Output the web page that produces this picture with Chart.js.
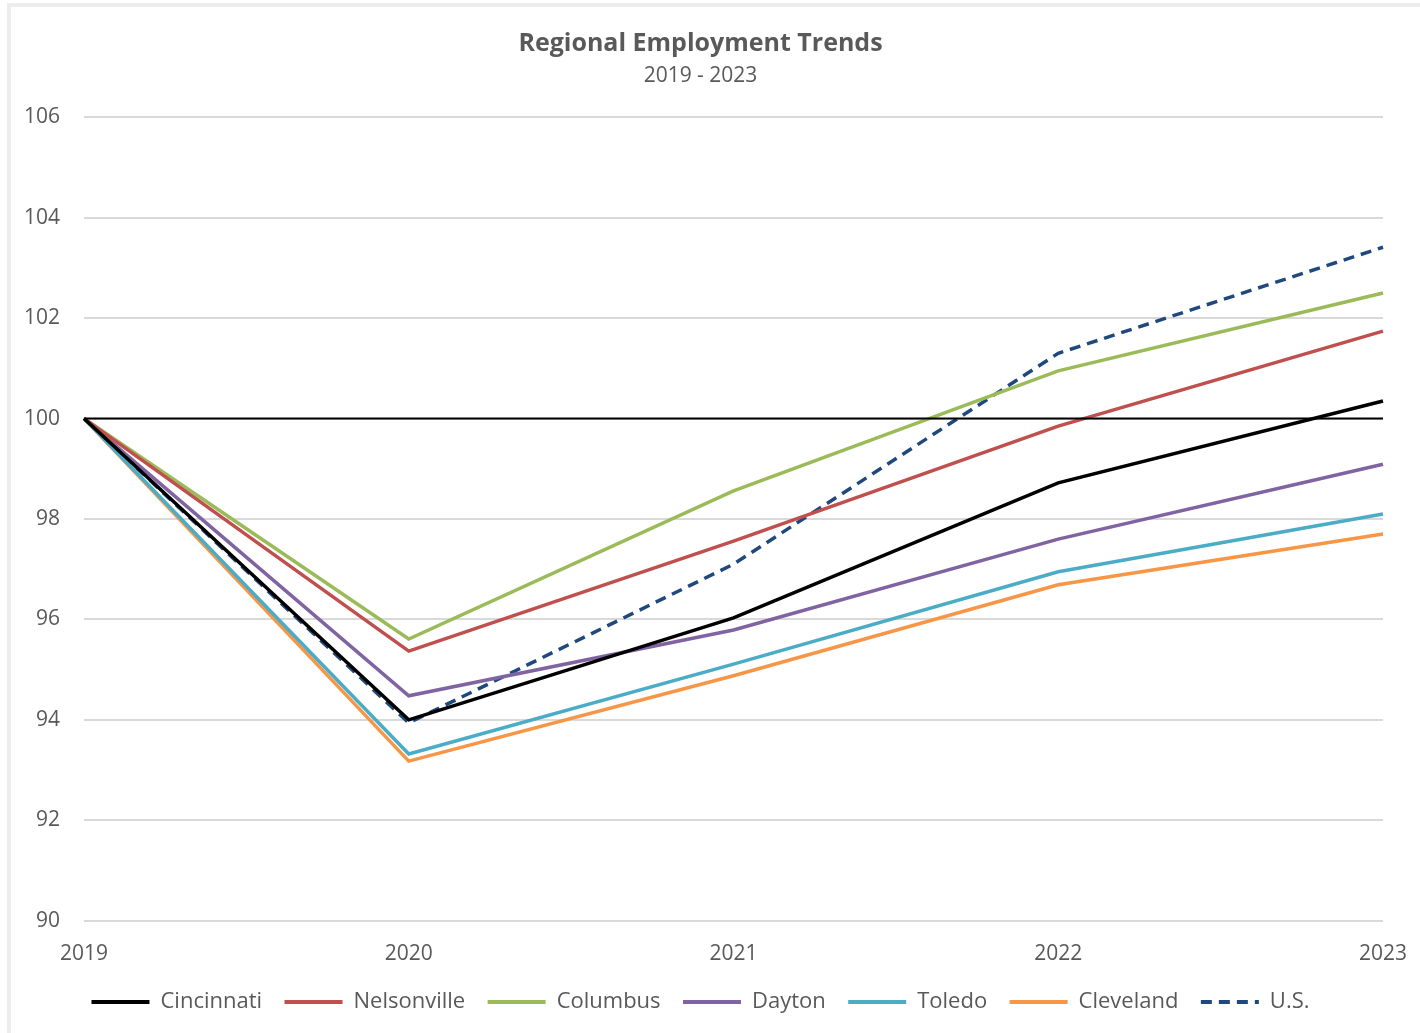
<!DOCTYPE html>
<html>
<head>
<meta charset="utf-8">
<script src="https://cdn.jsdelivr.net/npm/chart.js@4"></script>
<style>
  body { margin: 0; background: #fff; }
  #wrap { position: relative; width: 1420px; height: 1033px; overflow: hidden; }
  #frame { position: absolute; left: 7px; top: 3px; width: 1440px; height: 1060px; border: 4px solid #ededed; box-sizing: border-box; }
  canvas { position: absolute; left: 0; top: 0; }
</style>
</head>
<body>
<div id="wrap">
  <div id="frame"></div>
  <canvas id="chart" width="1420" height="1033"></canvas>
</div>
<script>
const years = ["2019", "2020", "2021", "2022", "2023"];
const cincinnati = [100, 94.0, 96.03, 98.72, 100.35];
const nelsonville = [100, 95.37, 97.56, 99.85, 101.74];
const columbus = [100, 95.61, 98.56, 100.95, 102.5];
const dayton = [100, 94.48, 95.79, 97.6, 99.09];
const toledo = [100, 93.32, 95.11, 96.95, 98.1];
const cleveland = [100, 93.18, 94.88, 96.69, 97.7];
const us = [100, 93.94, 97.1, 101.3, 103.41];
const baseline = [100, 100, 100, 100, 100];

const font = "'Open Sans', sans-serif";

function line(label, data, color, dash) {
    return {
        label: label,
        data: data,
        borderColor: color,
        backgroundColor: color,
        borderWidth: 3.5,
        borderDash: dash || [],
        pointRadius: 0,
        tension: 0
    };
}

new Chart(document.getElementById("chart"), {
    type: "line",
    data: {
        labels: years,
        datasets: [
            { label: "base", data: baseline, borderColor: "#000", borderWidth: 2, pointRadius: 0 },
            line("Cincinnati", cincinnati, "#000000"),
            line("Nelsonville", nelsonville, "#c0504d"),
            line("Columbus", columbus, "#9bbb59"),
            line("Dayton", dayton, "#8064a2"),
            line("Toledo", toledo, "#4bacc6"),
            line("Cleveland", cleveland, "#f79646"),
            line("U.S.", us, "#1f497d", [11, 7])
        ]
    },
    options: {
        responsive: false,
        animation: false,
        layout: { padding: { left: 0, right: 19, top: 29, bottom: 10 } },
        plugins: {
            title: {
                display: true,
                text: "Regional Employment Trends",
                color: "#595959",
                font: { family: font, size: 25, weight: "bold" },
                padding: { top: 0, bottom: 4 }
            },
            subtitle: {
                display: true,
                text: "2019 - 2023",
                color: "#595959",
                font: { family: font, size: 21 },
                padding: { top: 0, bottom: 29 }
            },
            legend: {
                position: "bottom",
                labels: {
                    usePointStyle: true,
                    pointStyle: "line",
                    pointStyleWidth: 58,
                    color: "#595959",
                    font: { family: font, size: 22 },
                    padding: 11,
                    generateLabels: chart => {
                        const items = Chart.defaults.plugins.legend.labels.generateLabels(chart)
                            .filter(item => item.text !== "base");
                        items.forEach((item, i) => {
                            const ds = chart.data.datasets[item.datasetIndex];
                            item.lineDash = ds.borderDash || [];
                            item.lineWidth = 4;
                            item.strokeStyle = ds.borderColor;
                            // a bit more room between entries, like the original
                            if (i < items.length - 1) item.text += "  ";
                        });
                        return items;
                    }
                }
            },
            tooltip: { enabled: false }
        },
        scales: {
            x: {
                offset: false,
                grid: { display: false },
                border: { display: false },
                ticks: { color: "#595959", font: { family: font, size: 21 }, padding: 13 }
            },
            y: {
                min: 90,
                max: 106,
                ticks: { stepSize: 2, color: "#595959", font: { family: font, size: 21 }, padding: 24 },
                grid: { color: "#d9d9d9", lineWidth: 2, drawTicks: false },
                border: { display: false }
            }
        }
    }
});
</script>
</body>
</html>
